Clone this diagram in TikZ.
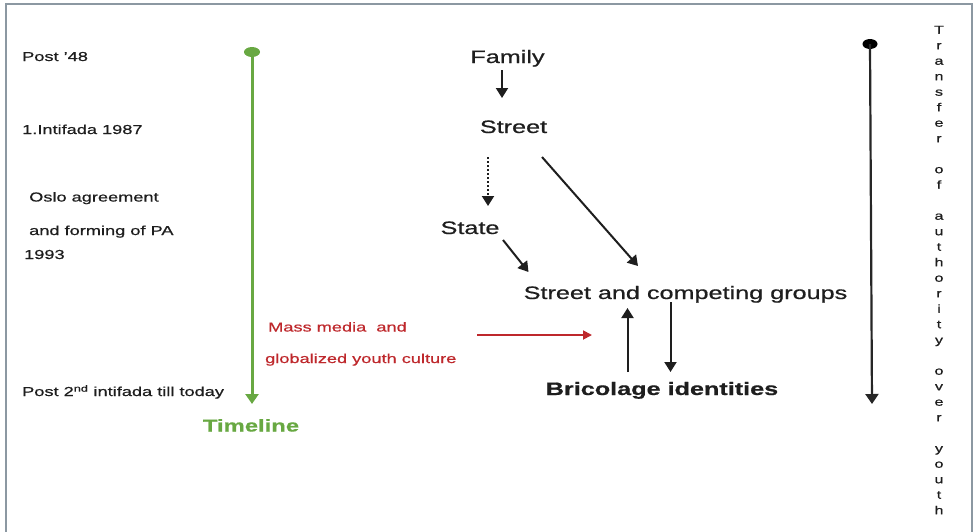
\documentclass[tikz,border=0pt]{standalone}
\usepackage{fontspec}
\setmainfont[FakeStretch=1.4,FakeBold=0.7]{Liberation Sans}
\usetikzlibrary{arrows.meta}
\definecolor{tlgreen}{RGB}{104,168,66}
\definecolor{mred}{RGB}{190,40,44}
\definecolor{framegray}{RGB}{140,152,162}
\definecolor{txt}{RGB}{30,30,30}
\begin{document}
\begin{tikzpicture}[x=1pt,y=-1pt,
  lab/.style={anchor=base west,inner sep=0pt,font=\fontsize{13}{15}\selectfont,text=txt},
  big/.style={anchor=base,inner sep=0pt,font=\fontsize{18}{21}\selectfont,text=txt},
  arr/.style={line width=2pt,draw=txt,-{Triangle[length=10pt,width=12pt]}},
]
\useasboundingbox (0,0) rectangle (978,531);
\draw[framegray,line width=2pt] (6,540) -- (6,4) -- (972,4) -- (972,540);

% left labels
\node[lab] (p48) at (22,61) {Post '48};
\node[lab] (int1) at (22,134) {1.Intifada 1987};
\node[lab] (oslo1) at (29,201.5) {Oslo agreement};
\node[lab] (oslo2) at (29,235) {and forming of PA};
\node[lab] (y93) at (24,259) {1993};
\node[lab] (post2) at (22,396) {Post 2\textsuperscript{nd} intifada till today};
\node[anchor=base,inner sep=0pt,font=\bfseries\fontsize{17}{20}\selectfont,text=tlgreen] (tl) at (251,431.5) {Timeline};

% red labels
\node[lab,text=mred] (mm1) at (268,331.5) {Mass media\ \ and};
\node[lab,text=mred] (mm2) at (265,363) {globalized youth culture};

% main nodes
\node[big] (family) at (507.5,63) {Family};
\node[big] (street) at (513.5,133) {Street};
\node[big] (state) at (470,234) {State};
\node[big] (scg) at (685.5,299) {Street and competing groups};
\node[big,font=\bfseries\fontsize{18}{21}\selectfont] (bric) at (662,395) {Bricolage identities};

% vertical text
\node[inner sep=0pt,align=center,font=\fontsize{11.5}{15.5}\selectfont,text=txt] (transfer) at (939,270)
 {T\\r\\a\\n\\s\\f\\e\\r\\[15.5pt]o\\f\\[15.5pt]a\\u\\t\\h\\o\\r\\i\\t\\y\\[15.5pt]o\\v\\e\\r\\[15.5pt]y\\o\\u\\t\\h};

% coordinates
\coordinate (tltop) at (252,52);
\coordinate (tlbot) at (252,404);
\coordinate (autop) at (870,44);
\coordinate (aubot) at (872,404);
\coordinate (fs1) at (502,70);
\coordinate (fs2) at (502,98);
\coordinate (ss1) at (488,157);
\coordinate (ss2) at (488,206);
\coordinate (sg1) at (542,157);
\coordinate (sg2) at (638,266);
\coordinate (tg1) at (503,240);
\coordinate (tg2) at (528.5,272);
\coordinate (up1) at (627.5,372);
\coordinate (up2) at (627.5,308);
\coordinate (dn1) at (670.5,302);
\coordinate (dn2) at (670.5,372);
\coordinate (rm1) at (477,335);
\coordinate (rm2) at (592,335);

% timeline
\fill[tlgreen] (tltop) ellipse (8 and 5);
\draw[tlgreen,line width=3pt,-{Triangle[length=10pt,width=13pt]}] (tltop) -- (tlbot);

% authority line
\fill[black] (autop) ellipse (7.5 and 5);
\draw[black!85,line width=2.2pt,-{Triangle[length=10pt,width=13pt]}] (autop) -- (aubot);

% connectors
\draw[arr] (fs1) -- (fs2);
\draw[arr,dotted,line width=2pt] (ss1) -- (ss2);
\draw[arr] (sg1) -- (sg2);
\draw[arr] (tg1) -- (tg2);
\draw[arr] (up1) -- (up2);
\draw[arr] (dn1) -- (dn2);
\draw[mred,line width=1.8pt,-{Triangle[length=9pt,width=9pt]}] (rm1) -- (rm2);
\end{tikzpicture}
\end{document}
